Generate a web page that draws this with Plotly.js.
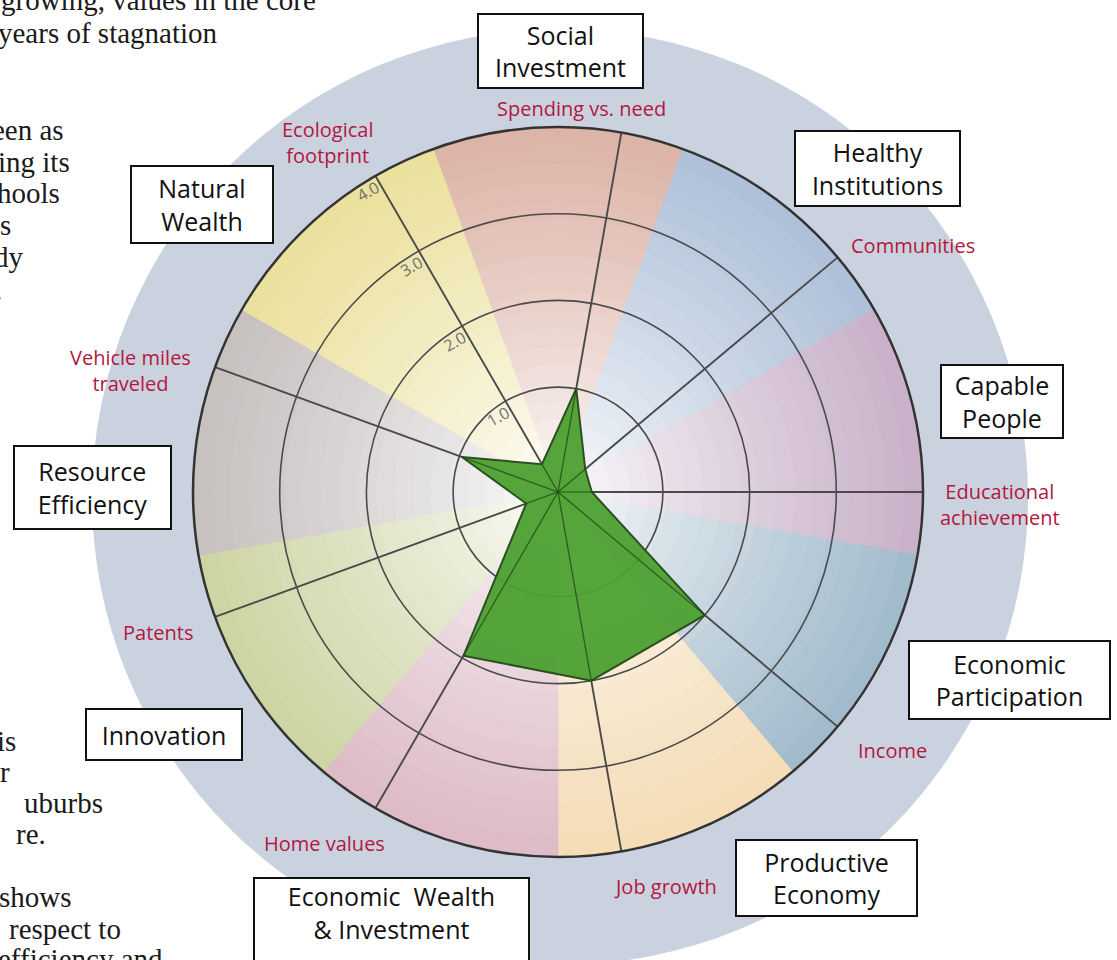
<!DOCTYPE html>
<html>
<head>
<meta charset="utf-8">
<script src="https://cdn.plot.ly/plotly-3.0.1.min.js"></script>
<style>
  html, body { margin: 0; padding: 0; background: #fff; }
  #chart { width: 1117px; height: 960px; }
</style>
</head>
<body>
<div id="chart"></div>
<script>
// indicators (spokes), clockwise starting at "Spending vs. need"
var indicators = ['Spending vs. need', 'Communities', 'Educational achievement', 'Income', 'Job growth',
                  'Home values', 'Patents', 'Vehicle miles traveled', 'Ecological footprint'];
var indicatorLabels = ['Spending vs. need', 'Communities', 'Educational<br>achievement', 'Income', 'Job growth',
                       'Home values', 'Patents', 'Vehicle miles<br>traveled', 'Ecological<br>footprint'];
var scores = [1.0, 0.2, 0.18, 2.0, 2.0, 1.97, 0.18, 0.97, 0.16];

// categories (coloured sectors), clockwise starting at the top
var categories = ['Social<br>Investment', 'Healthy<br>Institutions', 'Capable<br>People', 'Economic<br>Participation',
                  'Productive<br>Economy', 'Economic  Wealth<br>& Investment', 'Innovation', 'Resource<br>Efficiency',
                  'Natural<br>Wealth'];
var categoryColors = ['#dcb2a6', '#adbfd8', '#c8b0c8', '#a0bacb', '#f4dcb6', '#dcbac6', '#cdd4a2', '#c6c0bf', '#ebe09c'];

var ringTicks = [1, 2, 3, 4];
var ringLabels = ['1.0', '2.0', '3.0', '4.0'];

// surrounding text of the page (cut off at the left edge)
var bodyLines = ['growing, values in the core', 'years of stagnation', 'een as', 'ing its', 'hools', 's', 'dy', '.',
                 'is', 'r', 'uburbs', 're.', 'shows', 'respect to', 'efficiency and'];

// ---- layout helpers ----
var W = 1117, H = 960;
function px(x) { return x / W; }
function py(y) { return 1 - y / H; }
var cx = 558, cy = 492, R = 365;
var rMin = -0.21, rMax = 4;
var dom = { x: [px(cx - R), px(cx + R)], y: [py(cy + R), py(cy - R)] };

var spokeTheta = indicators.map(function (d, i) { return 10 + 40 * i; });
var sectorTheta = categories.map(function (d, i) { return 40 * i; });

function mix(c1, c2, t) {
  var a = parseInt(c1.slice(1), 16), b = parseInt(c2.slice(1), 16);
  var r = Math.round(((a >> 16) & 255) * (1 - t) + ((b >> 16) & 255) * t);
  var g = Math.round(((a >> 8) & 255) * (1 - t) + ((b >> 8) & 255) * t);
  var bl = Math.round((a & 255) * (1 - t) + (b & 255) * t);
  return 'rgb(' + r + ',' + g + ',' + bl + ')';
}

// sector backgrounds: radial bands fading to white at the centre
var nb = 20, dr = (rMax - rMin) / nb;
var bT = [], bR = [], bB = [], bC = [];
sectorTheta.forEach(function (th, s) {
  for (var b = 0; b < nb; b++) {
    bT.push(th); bB.push(rMin + b * dr); bR.push(dr);
    bC.push(mix('#ffffff', categoryColors[s], Math.pow((b + 0.5) / nb, 0.78)));
  }
});

var sectors = {
  type: 'barpolar', subplot: 'polar',
  theta: bT, r: bR, base: bB, width: 40,
  marker: { color: bC, line: { color: bC, width: 1 } },
  hoverinfo: 'skip'
};

var shape = {
  type: 'scatterpolar', subplot: 'polar2',
  r: scores.concat([scores[0]]), theta: spokeTheta.concat([spokeTheta[0]]),
  mode: 'lines', fill: 'toself',
  fillcolor: 'rgba(76,160,48,0.95)',
  line: { color: '#2c4f22', width: 2 },
  hoverinfo: 'skip'
};

// spokes drawn again across the green area
var spR = [], spT = [];
scores.forEach(function (v, i) { spR.push(rMin, v, null); spT.push(spokeTheta[i], spokeTheta[i], null); });
var spokesOver = {
  type: 'scatterpolar', subplot: 'polar2', r: spR, theta: spT, mode: 'lines',
  line: { color: 'rgba(35,70,25,0.75)', width: 1.2 }, hoverinfo: 'skip'
};

// ---- annotations ----
var boxPos = [[560, 51, 167, 76], [877.5, 168.5, 167, 77], [1002, 402, 124, 75], [1009, 680, 203, 80],
              [826, 877.5, 183, 78], [391.5, 933, 277, 113], [164, 734.5, 158, 53], [92, 487.5, 159, 85],
              [202, 205, 144, 79]];
var labelPos = [[581, 109], [913, 246], [1000, 505], [892, 750], [665, 886], [324, 843], [158, 632], [130, 370], [327, 143]];
var bodyPos = [[318, 0], [220, 33], [66, 130], [72, 162], [62, 193], [13, 225], [26, 257], [4, 290],
               [18, 741], [12, 772], [105, 803], [48, 834], [74, 897], [123, 929], [165, 959]];

var annotations = [];
categories.forEach(function (c, i) {
  var p = boxPos[i];
  var wealth = i === 5;
  annotations.push({
    xref: 'paper', yref: 'paper', x: px(p[0]), y: py(p[1]), xanchor: 'center', yanchor: 'middle',
    text: c, showarrow: false, width: p[2] - 4, height: p[3] - 4,
    valign: wealth ? 'top' : 'middle', align: 'center',
    bgcolor: '#ffffff', bordercolor: '#111', borderwidth: 2, borderpad: 0,
    font: { family: 'Open Sans, sans-serif', size: 25, color: '#111' }
  });
});
indicatorLabels.forEach(function (t, i) {
  var p = labelPos[i];
  annotations.push({
    xref: 'paper', yref: 'paper', x: px(p[0]), y: py(p[1]), xanchor: 'center', yanchor: 'middle',
    text: t, showarrow: false, align: 'center',
    font: { family: 'Open Sans, sans-serif', size: 20, color: '#b3173e' }
  });
});
bodyLines.forEach(function (t, i) {
  var p = bodyPos[i];
  annotations.push({
    xref: 'paper', yref: 'paper', x: px(p[0]), y: py(p[1]), xanchor: 'right', yanchor: 'middle',
    text: t, showarrow: false, align: 'right',
    font: { family: 'Liberation Serif, serif', size: 29, color: '#1a1a1a' }
  });
});

var layout = {
  width: W, height: H,
  margin: { l: 0, r: 0, t: 0, b: 0 },
  paper_bgcolor: '#ffffff',
  showlegend: false,
  shapes: [{
    type: 'circle', xref: 'paper', yref: 'paper', layer: 'below',
    x0: px(560 - 468), x1: px(560 + 468), y0: py(497 + 468), y1: py(497 - 468),
    fillcolor: '#cbd2df', line: { width: 0 }
  }],
  polar: {
    domain: dom, bgcolor: 'rgba(0,0,0,0)',
    radialaxis: { range: [rMin, rMax], showgrid: false, showline: false, showticklabels: false, ticks: '' },
    angularaxis: { rotation: 90, direction: 'clockwise', showgrid: false, showline: false, showticklabels: false, ticks: '' }
  },
  polar2: {
    domain: dom, bgcolor: 'rgba(0,0,0,0)',
    radialaxis: {
      range: [rMin, rMax], angle: 120, side: 'counterclockwise',
      tickvals: ringTicks,
      ticktext: ringLabels.map(function (t) { return '\u00a0<br>' + t; }),
      tickangle: 90, ticks: '', showline: false,
      gridcolor: '#4a4a4a', gridwidth: 1.6,
      tickfont: { family: 'Open Sans, sans-serif', size: 16, color: '#6f6f6f' }
    },
    angularaxis: {
      rotation: 90, direction: 'clockwise', tickvals: spokeTheta, showticklabels: false, ticks: '',
      gridcolor: '#4a4a4a', gridwidth: 1.9, showline: true, linecolor: '#333', linewidth: 2.5
    }
  },
  annotations: annotations
};

Plotly.newPlot('chart', [sectors, shape, spokesOver], layout, { staticPlot: true });
</script>
</body>
</html>
